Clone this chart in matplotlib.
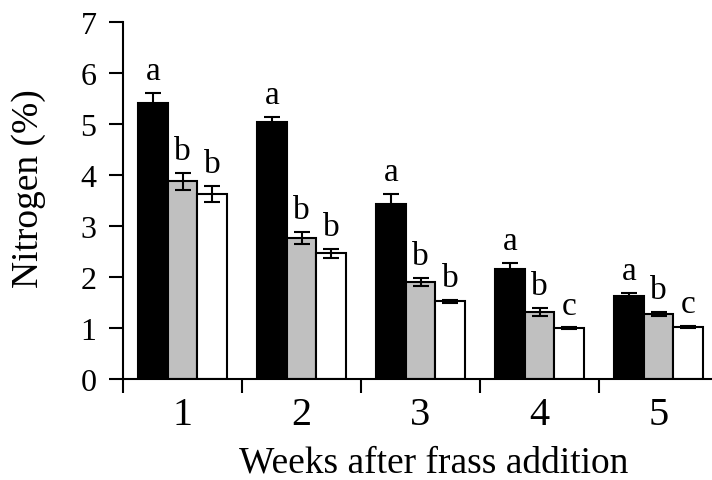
import numpy as np
import matplotlib
matplotlib.use("Agg")
import matplotlib.pyplot as plt

weeks = ["1", "2", "3", "4", "5"]
black_vals = [5.40, 5.04, 3.43, 2.16, 1.63]
black_err = [0.20, 0.10, 0.20, 0.11, 0.06]
grey_vals = [3.87, 2.76, 1.90, 1.32, 1.28]
grey_err = [0.17, 0.12, 0.08, 0.08, 0.04]
white_vals = [3.62, 2.46, 1.52, 0.99, 1.02]
white_err = [0.16, 0.08, 0.03, 0.02, 0.02]
black_letters = ["a", "a", "a", "a", "a"]
grey_letters = ["b", "b", "b", "b", "b"]
white_letters = ["b", "b", "b", "c", "c"]

plt.rcParams["font.family"] = ["Liberation Serif", "DejaVu Serif"]

W, H = 712, 481
fig = plt.figure(figsize=(W / 100, H / 100), dpi=100)
ax = fig.add_axes([123 / W, 101 / H, 595 / W, 357.3 / H])

x = np.arange(1, 6)
bw = 0.248
series = [(black_vals, black_err, black_letters, "black", -bw),
          (grey_vals, grey_err, grey_letters, "#c0c0c0", 0.0),
          (white_vals, white_err, white_letters, "white", bw)]
for vals, err, lets, col, dx in series:
    ax.bar(x + dx, vals, width=bw, color=col, edgecolor="black", linewidth=1.5, zorder=2)
    ax.errorbar(x + dx, vals, yerr=err, fmt="none", ecolor="black", elinewidth=1.5,
                capsize=5.5, capthick=1.5, zorder=3)
    for xi, v, e, l in zip(x + dx, vals, err, lets):
        ax.annotate(l, (xi, v + e), xytext=(0, 10), textcoords="offset points",
                    ha="center", va="baseline", fontsize=24)

ax.set_xlim(0.5, 5.5)
ax.set_ylim(0, 7)
ax.spines["top"].set_visible(False)
ax.spines["right"].set_visible(False)
ax.spines["left"].set_linewidth(1.5)
ax.spines["bottom"].set_linewidth(1.5)
ax.set_yticks(range(8))
ax.tick_params(axis="y", direction="out", length=10, width=1.5, labelsize=23, pad=9)
ax.set_xticks(np.arange(0.5, 5.5, 1.0))
ax.set_xticklabels([])
ax.set_xticks(x, minor=True)
ax.set_xticklabels(weeks, minor=True)
ax.tick_params(axis="x", which="major", direction="out", length=10, width=1.5)
ax.tick_params(axis="x", which="minor", length=0, labelsize=29, pad=12)
ax.set_ylabel("Nitrogen (%)", fontsize=27)
ax.yaxis.set_label_coords(-0.13, 0.535)
ax.set_xlabel("Weeks after frass addition", fontsize=27)
ax.xaxis.set_label_coords(0.523, -0.185)

fig.savefig("out.png", dpi=100)
